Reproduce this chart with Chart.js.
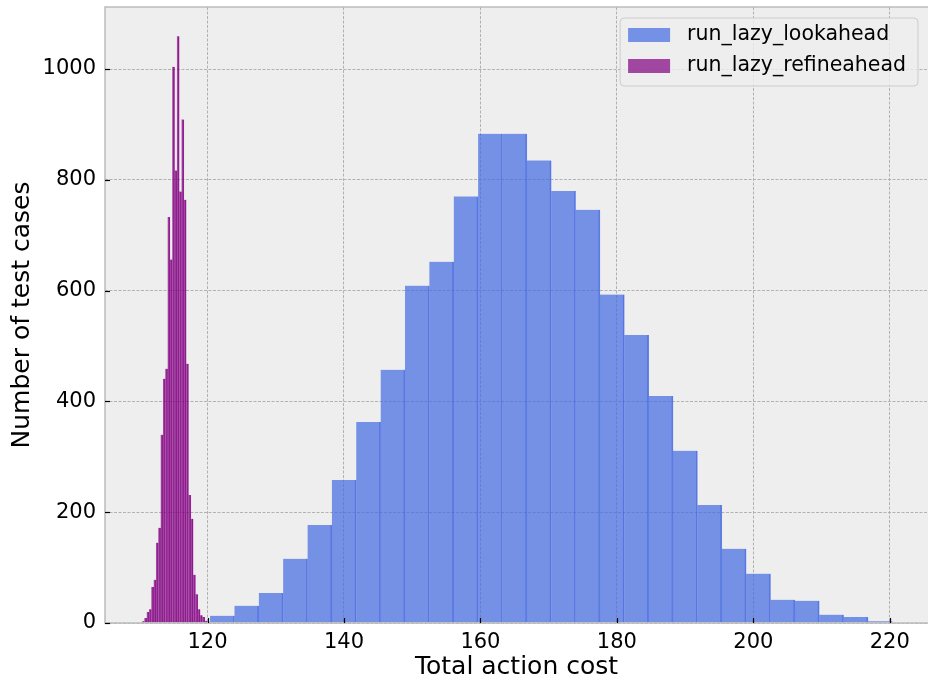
<!DOCTYPE html>
<html lang="en">
<head>
<meta charset="UTF-8">
<script src="https://cdn.jsdelivr.net/npm/chart.js@4.4.0/dist/chart.umd.min.js"></script>
<style>
  html, body { margin: 0; padding: 0; background: #ffffff; }
  .chart-box { width: 928px; height: 687px; }
</style>
</head>
<body>
<div class="chart-box"><canvas id="costChart" width="928" height="687"></canvas></div>
<script>
// histogram data (bin range + counts per bin)
const seriesNames = ['run_lazy_lookahead', 'run_lazy_refineahead'];
const lookaheadRange = [120.37, 220.37];
const lookaheadCounts = [13, 31, 54, 116, 177, 258, 363, 457, 609, 652,
  770, 883, 883, 835, 780, 746, 593, 520, 410, 311,
  213, 134, 89, 42, 40, 15, 11, 3];
const refineaheadRange = [110.40, 119.93];
const refineaheadCounts = [3, 9, 20, 25, 65, 78, 145, 172, 340, 441,
  459, 733, 656, 1004, 817, 1059, 779, 909, 764, 468,
  231, 188, 87, 52, 25, 14, 11, 4];
const xTicks = [120, 140, 160, 180, 200, 220];
const yTicks = [0, 200, 400, 600, 800, 1000];
const xLabel = 'Total action cost';
const yLabel = 'Number of test cases';

function binPoints(range, counts) {
  const w = (range[1] - range[0]) / counts.length;
  return counts.map((c, i) => ({ x: range[0] + (i + 0.5) * w, y: c }));
}

Chart.defaults.font.family = "'DejaVu Sans', sans-serif";
Chart.defaults.color = '#000000';

const X_MIN = 104.97, X_MAX = 225.6;

// plot background, spines, inward ticks
const framePlugin = {
  id: 'frame',
  beforeDraw(chart) {
    const { ctx, chartArea: a } = chart;
    ctx.save();
    ctx.fillStyle = '#eeeeee';
    ctx.fillRect(a.left, a.top, a.right - a.left, a.bottom - a.top);
    ctx.restore();
  },
  afterDraw(chart) {
    const { ctx, chartArea: a, scales } = chart;
    ctx.save();
    ctx.strokeStyle = '#bcbcbc';
    ctx.lineWidth = 1.5;
    ctx.beginPath();
    ctx.moveTo(a.right + 2, a.top);
    ctx.lineTo(a.left, a.top);
    ctx.lineTo(a.left, a.bottom);
    ctx.lineTo(a.right + 2, a.bottom);
    ctx.stroke();
    ctx.strokeStyle = '#000000';
    ctx.lineWidth = 1.2;
    xTicks.forEach(v => {
      const px = Math.round(scales.x.getPixelForValue(v)) + 0.5;
      ctx.beginPath(); ctx.moveTo(px, a.bottom); ctx.lineTo(px, a.bottom - 5); ctx.stroke();
    });
    yTicks.forEach(v => {
      const py = Math.round(scales.y.getPixelForValue(v)) + 0.5;
      ctx.beginPath(); ctx.moveTo(a.left, py); ctx.lineTo(a.left + 5, py); ctx.stroke();
    });
    ctx.restore();
  }
};

// framed legend in the upper right corner
const legendBoxPlugin = {
  id: 'legendBox',
  afterDraw(chart) {
    const { ctx, chartArea: a } = chart;
    const sets = chart.data.datasets;
    ctx.save();
    ctx.font = "20.5px 'DejaVu Sans'";
    const textW = Math.max(...sets.map(d => ctx.measureText(d.label).width));
    const w = 8 + 42 + 17 + textW + 12;
    const h = 68;
    const right = a.right - 10;
    const left = right - w;
    const top = a.top + 11;
    ctx.beginPath();
    ctx.roundRect(left, top, w, h, 4);
    ctx.fillStyle = 'rgba(238,238,238,0.8)';
    ctx.fill();
    ctx.strokeStyle = '#cccccc';
    ctx.lineWidth = 1;
    ctx.stroke();
    sets.forEach((d, i) => {
      const cy = top + 17 + i * 31;
      ctx.fillStyle = d.backgroundColor;
      ctx.fillRect(left + 8, cy - 7, 42, 14);
      ctx.fillStyle = '#000000';
      ctx.textBaseline = 'middle';
      ctx.fillText(d.label, left + 67, cy);
    });
    ctx.restore();
  }
};

const ctx = document.getElementById('costChart').getContext('2d');
const costChart = new Chart(ctx, {
  type: 'bar',
  data: {
    datasets: [
      {
        label: seriesNames[0],
        data: binPoints(lookaheadRange, lookaheadCounts),
        xAxisID: 'x',
        grouped: false,
        backgroundColor: 'rgba(65,105,225,0.7)',
        borderColor: 'rgba(55,90,225,0.75)',
        borderWidth: { top: 0, left: 0, right: 1, bottom: 0 },
        categoryPercentage: 1.0,
        barPercentage: 1.0
      },
      {
        label: seriesNames[1],
        data: binPoints(refineaheadRange, refineaheadCounts),
        xAxisID: 'x2',
        grouped: false,
        backgroundColor: 'rgba(128,0,128,0.7)',
        borderColor: 'rgba(140,10,140,0.85)',
        borderWidth: { top: 0, left: 0, right: 0.8, bottom: 0 },
        categoryPercentage: 1.0,
        barPercentage: 1.0
      }
    ]
  },
  options: {
    responsive: false,
    animation: false,
    devicePixelRatio: 1,
    layout: { padding: { top: 7, right: 0, left: 0, bottom: 0 } },
    plugins: {
      legend: { display: false },
      tooltip: { enabled: false }
    },
    scales: {
      x: {
        type: 'linear',
        min: X_MIN,
        max: X_MAX,
        offset: false,
        afterBuildTicks: s => { s.ticks = xTicks.map(v => ({ value: v })); },
        afterFit: s => { s.height = 64; s.paddingLeft = 0; s.paddingRight = 0; },
        grid: { color: '#b2b2b2', lineWidth: 1, drawTicks: false, offset: false },
        border: { display: false, dash: [3, 1.5] },
        ticks: {
          font: { size: 21 },
          padding: 7,
          maxRotation: 0,
          autoSkip: false,
          callback: v => String(v)
        },
        title: {
          display: true,
          text: xLabel,
          font: { size: 25 },
          padding: { top: 0, bottom: 5 }
        }
      },
      x2: {
        type: 'linear',
        display: false,
        min: X_MIN,
        max: X_MAX,
        offset: false,
        grid: { offset: false }
      },
      y: {
        min: 0,
        max: 1112,
        afterBuildTicks: s => { s.ticks = yTicks.map(v => ({ value: v })); },
        afterFit: s => { s.width = 105; s.paddingTop = 0; s.paddingBottom = 0; },
        grid: { color: '#b2b2b2', lineWidth: 1, drawTicks: false },
        border: { display: false, dash: [3, 1.5] },
        ticks: {
          font: { size: 21 },
          padding: 9,
          callback: v => String(v)
        },
        title: {
          display: true,
          text: yLabel,
          font: { size: 25 },
          padding: { top: 7, bottom: 0 }
        }
      }
    }
  },
  plugins: [framePlugin, legendBoxPlugin]
});
</script>
</body>
</html>
